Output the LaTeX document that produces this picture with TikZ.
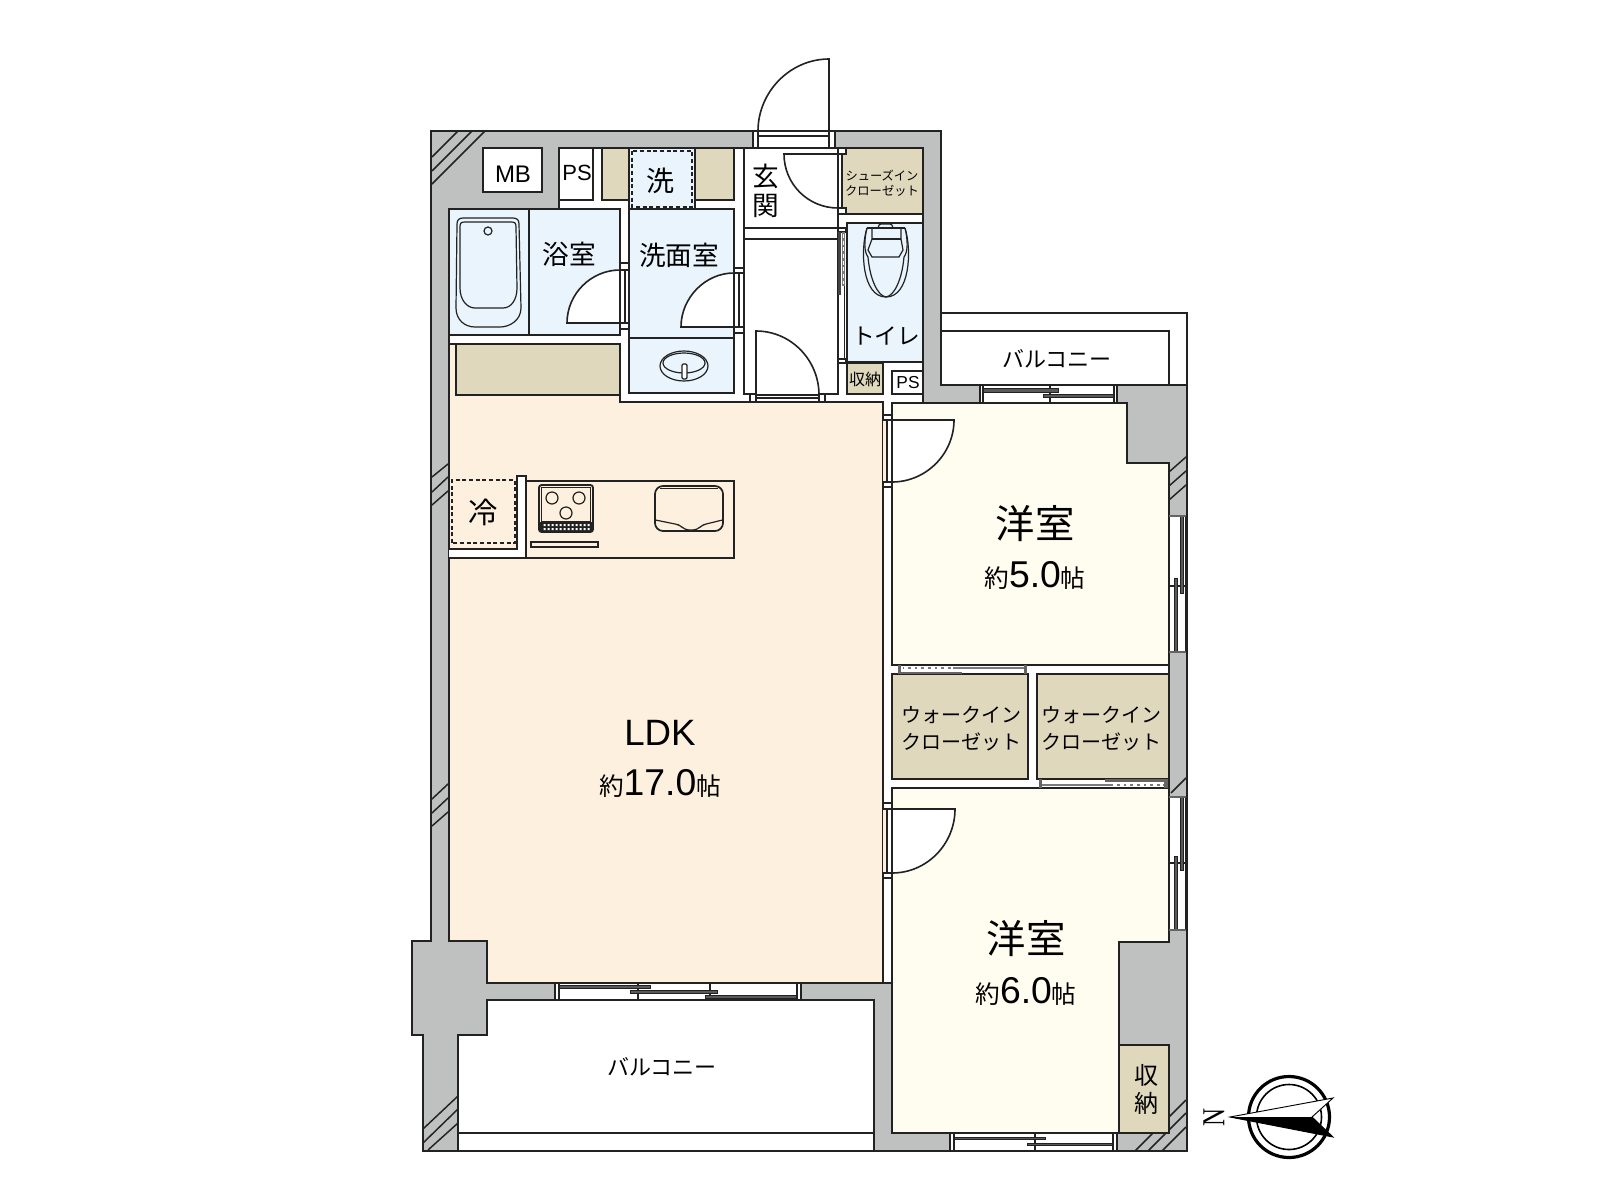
\documentclass[tikz,border=0pt]{standalone}
\usepackage{fontspec}
\setmainfont{Liberation Sans}
\newfontfamily\jp{Noto Sans CJK JP}
\newfontfamily\compassfont{Liberation Serif}
\newcommand{\fs}[2]{\fontsize{#1}{#2}\selectfont}
\definecolor{ink}{HTML}{222222}
\definecolor{wallgray}{HTML}{BFC0C0}
\definecolor{ldkcream}{HTML}{FDF0DF}
\definecolor{roomcream}{HTML}{FFFDF0}
\definecolor{wetblue}{HTML}{E9F4FC}
\definecolor{closetbeige}{HTML}{E0D8BC}
\tikzset{
  outline/.style={draw=ink,line width=1.2pt,line join=miter},
  wall/.style={outline,fill=wallgray},
  blank/.style={outline,fill=white},
  ldk/.style={outline,fill=ldkcream},
  room/.style={outline,fill=roomcream},
  wet/.style={outline,fill=wetblue},
  closet/.style={outline,fill=closetbeige},
  thinline/.style={draw=ink,line width=.9pt},
  jamb/.style={draw=ink,line width=.8pt,fill=white},
  rail/.style={draw=ink,line width=.4pt,fill=ink!75},
  hatchline/.style={draw=ink,line width=1.1pt},
  dots/.style={draw=white,line width=1pt,dash pattern=on 3pt off 2pt},
  lbl/.style={inner sep=0pt,align=center,text=black},
}
\begin{document}
\begin{tikzpicture}[x=.75pt,y=-.75pt]
  \useasboundingbox (0,0) rectangle (1600,1200);

  % walls
  \draw[wall] (431,131) -- (941,131) -- (941,385) -- (1187,385) -- (1187,1151) -- (423,1151)
    -- (423,1035) -- (412,1035) -- (412,941) -- (431,941) -- cycle;
  \draw[blank] (941,313) -- (1187,313) -- (1187,385) -- (941,385) -- cycle;
  \draw[blank] (941,331) rectangle (1169,385);
  \foreach \ya/\xb/\yb in {157/458/131,171/472/131,184/485/131} \draw[hatchline] (432,\ya) -- (\xb,\yb);
  \foreach \ya/\yb in {477/464,492/477,505/491,799/784,813/798,826/812} \draw[hatchline] (432,\ya) -- (448,\yb);
  \foreach \ya/\yb in {1129/1096,1143/1109} \draw[hatchline] (423,\ya) -- (458,\yb);
  \draw[hatchline] (428,1150) -- (458,1123);
  \foreach \ya/\yb in {457/472,471/486,485/500} \draw[hatchline] (1186,\ya) -- (1169,\yb);
  \draw[hatchline] (1186,778) -- (1171,793);
  \foreach \ya/\xb in {1100/1135,1113/1148,1127/1162} \draw[hatchline] (1186,\ya) -- (\xb,1151);

  % interior and balcony
  \draw[blank] (449,209) -- (559,209) -- (559,148) -- (923,148) -- (923,403) -- (1127,403) -- (1127,463)
    -- (1169,463) -- (1169,942) -- (1119,942) -- (1119,1133) -- (892,1133) -- (892,983) -- (487,983)
    -- (487,941) -- (449,941) -- cycle;
  \draw[blank] (487,1000) -- (874,1000) -- (874,1151) -- (458,1151) -- (458,1035) -- (487,1035) -- cycle;
  \draw[outline] (458,1133) -- (874,1133);

  % rooms
  \draw[ldk] (449,344) -- (620,344) -- (620,402) -- (883,402) -- (883,983) -- (487,983) -- (487,941) -- (449,941) -- cycle;
  \draw[room] (892,403) -- (1127,403) -- (1127,463) -- (1169,463) -- (1169,665) -- (892,665) -- cycle;
  \draw[room] (892,788) -- (1169,788) -- (1169,942) -- (1119,942) -- (1119,1133) -- (892,1133) -- cycle;
  \draw[wet] (449,209) rectangle (620,335);
  \draw[outline] (529,209) -- (529,335);
  \draw[wet] (629,209) rectangle (734,338);
  \draw[wet] (629,338) rectangle (734,393);
  \draw[wet] (629,148) rectangle (695,209);
  \draw[wet] (847,223) rectangle (923,362);
  \draw[thinline,dash pattern=on 3pt off 2pt] (632,151) rectangle (692,207);

  % closets and boxes
  \draw[blank] (483,148) rectangle (542,192);
  \draw[blank] (559,148) rectangle (593,200);
  \draw[closet] (602,148) rectangle (629,200);
  \draw[closet] (695,148) rectangle (734,200);
  \draw[closet] (456,344) rectangle (620,395);
  \draw[closet] (842,148) rectangle (923,214);
  \draw[closet] (847,363) rectangle (883,394);
  \draw[blank] (892,371) rectangle (923,394);
  \draw[closet] (892,674) rectangle (1028,779);
  \draw[closet] (1037,674) rectangle (1169,779);
  \draw[closet] (1119,1045) rectangle (1169,1133);

  % hall
  \draw[blank] (744,148) rectangle (838,394);
  \draw[outline] (744,228) -- (838,228) (744,239) -- (838,239);

  % entrance door
  \draw[blank] (758,131) rectangle (829,148);
  \draw[outline] (758,136) -- (829,136);
  \draw[jamb] (753,131) rectangle (758,148);
  \draw[jamb] (829,131) rectangle (835,148);
  \draw[blank] (829,131) -- (758,131) .. controls +(0,-39) and +(-39,0) .. (829,59) -- cycle;

  % swing doors
  \draw[blank] (620,270) rectangle (629,323);
  \draw[thinline] (625,270) -- (625,323);
  \draw[jamb] (620,263) rectangle (629,270);
  \draw[jamb] (620,323) rectangle (629,329);
  \draw[blank] (620,323) -- (567,323) .. controls +(0,-29) and +(-29,0) .. (620,270) -- cycle;
  \draw[thinline] (739,273) -- (739,327);
  \draw[jamb] (734,268) rectangle (744,273);
  \draw[jamb] (734,327) rectangle (744,333);
  \draw[blank] (734,327) -- (681,327) .. controls +(0,-29) and +(-29,0) .. (734,273) -- cycle;
  \draw[jamb] (838,148) rectangle (846,154);
  \draw[jamb] (838,208) rectangle (846,214);
  \draw[blank] (838,154) -- (784,154) .. controls +(0,30) and +(-30,0) .. (838,208) -- cycle;
  \fill[white] (756,391) rectangle (819,401);
  \draw[thinline] (756,398) -- (819,398);
  \draw[jamb] (750,394) rectangle (756,402);
  \draw[jamb] (819,394) rectangle (825,402);
  \draw[blank] (756,395) -- (756,331) .. controls +(35,0) and +(0,-35) .. (819,395) -- cycle;
  \fill[white] (887,420) rectangle (891,482);
  \fill[ldkcream] (883,420) rectangle (887,482);
  \draw[thinline] (887,420) -- (887,482);
  \draw[jamb] (883,415) rectangle (892,420);
  \draw[jamb] (883,482) rectangle (892,487);
  \draw[blank] (892,420) -- (954,420) .. controls +(0,34) and +(34,0) .. (892,482) -- cycle;
  \fill[white] (887,809) rectangle (891,873);
  \fill[ldkcream] (883,809) rectangle (887,873);
  \draw[thinline] (887,809) -- (887,873);
  \draw[jamb] (883,803) rectangle (892,809);
  \draw[jamb] (883,873) rectangle (892,878);
  \draw[blank] (892,809) -- (955,809) .. controls +(0,35) and +(35,0) .. (892,873) -- cycle;

  % sliding doors
  \fill[white] (838,231) rectangle (846,360);
  \draw[jamb] (838,228) rectangle (846,232);
  \draw[jamb] (838,359) rectangle (846,363);
  \draw[outline] (838,232) -- (838,360);
  \fill[ink!85] (838,232) rectangle (840.5,295);
  \draw[draw=ink!60,line width=2pt] (843.5,232) -- (843.5,286);
  \draw[dots] (843.5,234) -- (843.5,284);
  \draw[thinline] (844.5,286) -- (844.5,359);
  \fill[white] (898,666) rectangle (1027,673);
  \fill[ink!70] (898,665) rectangle (901,674);
  \fill[ink!70] (1024,665) rectangle (1027,674);
  \fill[ink!70] (901,671.5) rectangle (962,674);
  \draw[draw=ink!60,line width=2pt] (903,668) -- (1024,668);
  \draw[dots] (904,668) -- (953,668);
  \fill[white] (1039,780) rectangle (1168,787);
  \fill[ink!70] (1039,779) rectangle (1042,788);
  \fill[ink!70] (1164,779) rectangle (1168,788);
  \fill[ink!70] (1105,779) rectangle (1164,782);
  \draw[draw=ink!60,line width=2pt] (1042,785) -- (1164,785);
  \draw[dots] (1113,785) -- (1163,785);

  % windows
  \draw[blank] (980,385) rectangle (1117,403);
  \draw[thinline] (1050,385) -- (1050,403);
  \draw[rail] (983,388) rectangle (1058,392);
  \draw[rail] (1043,394) rectangle (1115,397);
  \draw[jamb] (980,385) rectangle (983,403);
  \draw[jamb] (1114,385) rectangle (1117,403);
  \draw[blank] (555,983) rectangle (801,1000);
  \draw[thinline] (638,983) -- (638,1000) (710,983) -- (710,1000);
  \draw[rail] (559,985) rectangle (650,988);
  \draw[rail] (630,990) rectangle (717,993);
  \draw[rail] (705,995) rectangle (797,998);
  \draw[jamb] (555,983) rectangle (559,1000);
  \draw[jamb] (797,983) rectangle (801,1000);
  \draw[blank] (950,1133) rectangle (1117,1151);
  \draw[thinline] (1035,1133) -- (1035,1151);
  \draw[rail] (953,1137) rectangle (1045,1139.5);
  \draw[rail] (1027,1143) rectangle (1113,1145.5);
  \draw[jamb] (950,1133) rectangle (954,1151);
  \draw[jamb] (1113,1133) rectangle (1117,1151);
  \foreach \ya/\yb/\yc/\yd in {516/652/586/578,797/930/863/856} {
    \draw[blank] (1169,\ya) rectangle (1186,\yb);
    \draw[thinline] (1169,\yc) -- (1186,\yc);
    \draw[rail] (1180,\ya) rectangle (1183,\yc+7);
    \draw[rail] (1174,\yd) rectangle (1177,\yb);
    \draw[draw=ink!70,line width=1.6pt] (1169,\ya) -- (1186,\ya) (1169,\yb) -- (1186,\yb);
  }

  % kitchen
  \draw[ldk] (526,481) rectangle (734,558);
  \draw[blank] (449,549) -- (517,549) -- (517,476) -- (526,476) -- (526,558) -- (449,558);
  \draw[thinline,dash pattern=on 3pt off 2pt] (452,543) rectangle (515,480);
  \draw[draw=ink,line width=1.4pt,rounded corners=2pt] (539,485) rectangle (593,532);
  \draw[draw=ink,line width=.8pt] (541.5,487.5) rectangle (590.5,522);
  \fill[ink] (540,522) rectangle (592,532);
  \foreach \i in {0,...,11} \fill[white] (543.5+\i*4,524) rectangle +(2,2) (543.5+\i*4,528) rectangle +(2,2);
  \foreach \xc/\yc in {552/498,579/498,566/513} \draw[thinline] (\xc,\yc) circle[radius=6];
  \draw[thinline] (531,542) rectangle (598,547);
  \draw[draw=ink,line width=1.3pt,rounded corners=6pt] (655,486) rectangle (723,531);
  \draw[thinline,rounded corners=3pt] (655.5,520) -- (680,525) -- (685,530) -- (697,530) -- (702,525) -- (722.5,520);
  \draw[draw=ink,line width=.8pt] (660,488.5) -- (718,488.5);

  % bath and fixtures
  \draw[thinline] (463,218) -- (513,218) .. controls +(4,0) and +(0,-4) .. (519,224) -- (521,308)
    .. controls +(0,12) and +(10,0) .. (500,327) -- (475,327) .. controls +(-10,0) and +(0,12) .. (456,308)
    -- (457,224) .. controls +(0,-4) and +(-4,0) .. cycle;
  \draw[thinline] (465,222) -- (511,222) .. controls +(4,0) and +(0,-4) .. (516,227) -- (517,288)
    .. controls +(0,12) and +(8,0) .. (503,308) -- (475,308) .. controls +(-8,0) and +(0,12) .. (460,288)
    -- (460,227) .. controls +(0,-4) and +(-4,0) .. cycle;
  \draw[thinline] (488,231) circle[radius=4];
  \draw[thinline] (684,366) ellipse[x radius=24,y radius=15];
  \draw[thinline] (684,363) ellipse[x radius=21,y radius=10];
  \draw[thinline,fill=white,rounded corners=1pt] (682,364) rectangle (687,379);
  \draw[thinline] (878,228) .. controls +(1,-3) and +(-2,0) .. (881,224) -- (890,224) .. controls +(2,0) and +(-1,-3) .. (893,228);
  \draw[thinline] (867,228) -- (905,228);
  \draw[thinline] (867,228) .. controls (860,250) and (862,297) .. (886,297) .. controls (910,297) and (912,250) .. (905,228);
  \draw[thinline] (867,228) .. controls (864,240) and (864,252) .. (868,257) .. controls (870,280) and (878,296) .. (886,297)
    .. controls (894,296) and (902,280) .. (904,257) .. controls (908,252) and (908,240) .. (905,228);
  \draw[thinline] (872,228) -- (872,239) -- (868,250) -- (872,257) -- (899,257) -- (903,250) -- (901,239) -- (901,228);
  \draw[thinline] (872,239) -- (901,239);

  % labels
  \node[lbl,font=\rmfamily\fs{18}{18}] (mb) at (513,174) {MB};
  \node[lbl,font=\rmfamily\fs{16.5}{16.5}] (pstop) at (577,173) {PS};
  \node[lbl,font=\jp\fs{21}{21}] (wash) at (660,181) {洗};
  \node[lbl,font=\jp\fs{20}{20}] (bath) at (569,254) {浴室};
  \node[lbl,font=\jp\fs{20}{20}] (washroom) at (679,255) {洗面室};
  \node[lbl,font=\jp\fs{20}{21.5}] (entry) at (766,191) {玄\\関};
  \node[lbl,font=\jp\fs{9.2}{11}] (shoes) at (882,183) {シューズイン\\クローゼット};
  \node[lbl,font=\jp\fs{17}{17}] (toilet) at (886,336) {トイレ};
  \node[lbl,font=\jp\fs{12}{12}] (storesmall) at (865,379) {収納};
  \node[lbl,font=\rmfamily\fs{13}{13}] (pslow) at (908,383) {PS};
  \node[lbl,font=\jp\fs{16.5}{16.5}] (balcnorth) at (1057,359) {バルコニー};
  \node[lbl,font=\jp\fs{22}{22}] (fridge) at (483,512) {冷};
  \node[lbl,font=\rmfamily\fs{27.5}{27.5}] (ldkname) at (660,733) {LDK};
  \node[lbl,font=\jp\fs{18.5}{18.5}] (ldksize) at (660,783) {約{\rmfamily\fs{28}{28}17.0}帖};
  \node[lbl,font=\jp\fs{29.5}{29.5}] (westa) at (1035,524) {洋室};
  \node[lbl,font=\jp\fs{18.5}{18.5}] (westasize) at (1035,575) {約{\rmfamily\fs{28}{28}5.0}帖};
  \node[lbl,font=\jp\fs{29.5}{29.5}] (westb) at (1026,939) {洋室};
  \node[lbl,font=\jp\fs{18.5}{18.5}] (westbsize) at (1026,991) {約{\rmfamily\fs{28}{28}6.0}帖};
  \node[lbl,font=\jp\fs{15}{20}] (walka) at (961,729) {ウォークイン\\クローゼット};
  \node[lbl,font=\jp\fs{15}{20}] (walkb) at (1101,729) {ウォークイン\\クローゼット};
  \node[lbl,font=\jp\fs{18}{21}] (storebig) at (1146,1089) {収\\納};
  \node[lbl,font=\jp\fs{16.5}{16.5}] (balcsouth) at (662,1067) {バルコニー};

  % compass
  \draw[draw=black,line width=2.4pt] (1289,1117) circle[radius=40.5];
  \draw[draw=black,line width=1.2pt] (1289,1117) circle[radius=32.5];
  \draw[draw=black,line width=.7pt,fill=white] (1230,1117) -- (1333,1098) -- (1312,1117) -- (1333,1137) -- cycle;
  \fill[black] (1230,1117) -- (1312,1117) -- (1333,1137) -- cycle;
  \node[inner sep=0pt,rotate=90,font=\compassfont\fs{24}{24}] (north) at (1214,1117) {\scalebox{.78}[1]{N}};
\end{tikzpicture}
\end{document}
